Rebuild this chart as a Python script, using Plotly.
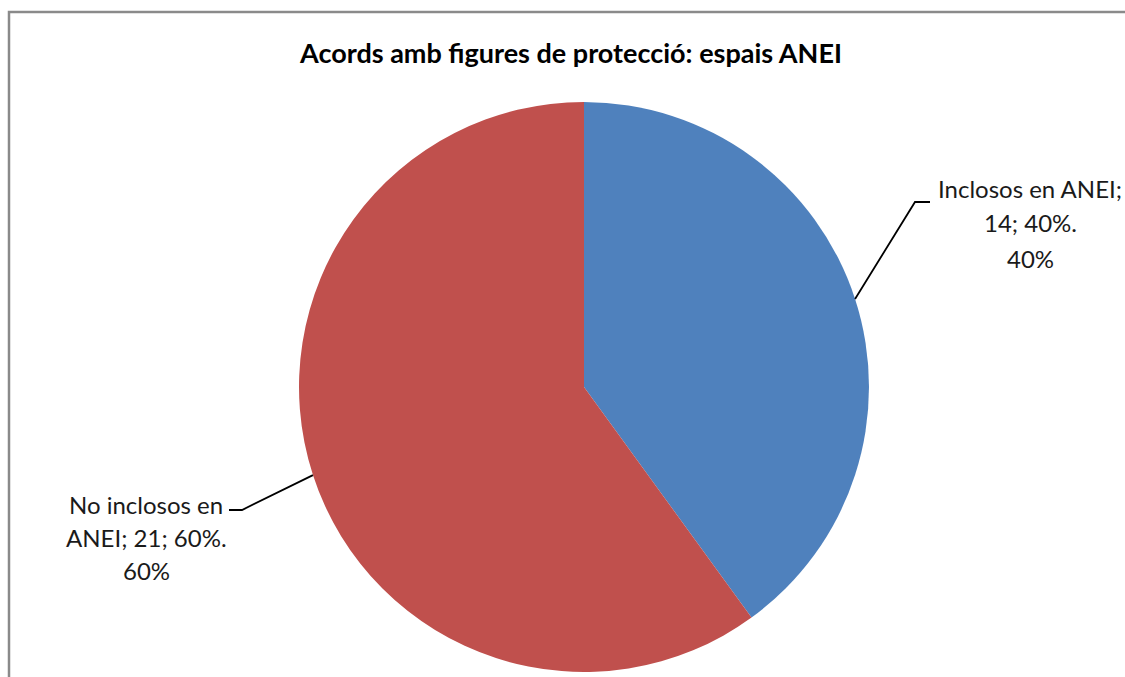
import math
import plotly.graph_objects as go

# ---- data ----
categories = ["Inclosos en ANEI", "No inclosos en ANEI"]
values = [14, 21]
colors = ["#4F81BD", "#C0504D"]
title = "Acords amb figures de protecció: espais ANEI"

W, H = 1125, 677
cx, cy, R = 584, 387, 285  # pie centre/radius in pixels (layout)

def px(x):
    return x / W

def py(y):
    return 1 - y / H

fig = go.Figure(go.Pie(
    labels=categories, values=values, sort=False, direction="clockwise",
    rotation=0, marker=dict(colors=colors, line=dict(width=0)),
    textinfo="none", hoverinfo="label+value+percent", showlegend=False,
    domain=dict(x=[px(cx - R), px(cx + R)], y=[py(cy + R), py(cy - R)]),
))

total = sum(values)
# label layout in pixels: elbow, leader end, text centre x, first line y, line step
label_layout = [
    dict(ex=915, ey=202, tx=930, cxt=1030, ly=188, step=35),
    dict(ex=242, ey=510, tx=229, cxt=146, ly=504, step=33),
]
# chart-area frame: only left and top edges are visible in the crop
shapes = [dict(type="path", xref="paper", yref="paper",
               path=f"M {px(9)},{py(677)} L {px(9)},{py(12)} L {px(1125)},{py(12)}",
               line=dict(color="#8a8a8a", width=2.5))]
annotations = []
cum = 0
for i, (cat, v, lay) in enumerate(zip(categories, values, label_layout)):
    mid = (cum + v / 2) / total * 2 * math.pi
    cum += v
    sx = cx + R * math.sin(mid)
    sy = cy - R * math.cos(mid)
    path = f"M {px(sx)},{py(sy)} L {px(lay['ex'])},{py(lay['ey'])} L {px(lay['tx'])},{py(lay['ey'])}"
    shapes.append(dict(type="path", xref="paper", yref="paper", path=path,
                       line=dict(color="black", width=1.8)))
    pct = round(v / total * 100)
    if i == 0:
        lines = [f"{cat};", f"{v}; {pct}%.", f"{pct}%"]
    else:
        parts = cat.split(" ")
        lines = [" ".join(parts[:3]), f"{parts[3]}; {v}; {pct}%.", f"{pct}%"]
    for k, t in enumerate(lines):
        annotations.append(dict(
            x=px(lay["cxt"]), y=py(lay["ly"] + k * lay["step"]), xref="paper", yref="paper",
            text=t, showarrow=False, xanchor="center", yanchor="middle",
            font=dict(family="Lato", size=24, color="#1a1a1a"),
        ))

annotations.append(dict(
    x=px(570), y=py(52), xref="paper", yref="paper", text=f"<b>{title}</b>",
    showarrow=False, xanchor="center", yanchor="middle",
    font=dict(family="Lato", size=27, color="black"),
))

fig.update_layout(
    width=W, height=H, margin=dict(l=0, r=0, t=0, b=0),
    paper_bgcolor="white", plot_bgcolor="white",
    shapes=shapes, annotations=annotations,
)
fig.write_html("out.html", config={"displayModeBar": False},
               post_script="document.body.style.margin='0';")
